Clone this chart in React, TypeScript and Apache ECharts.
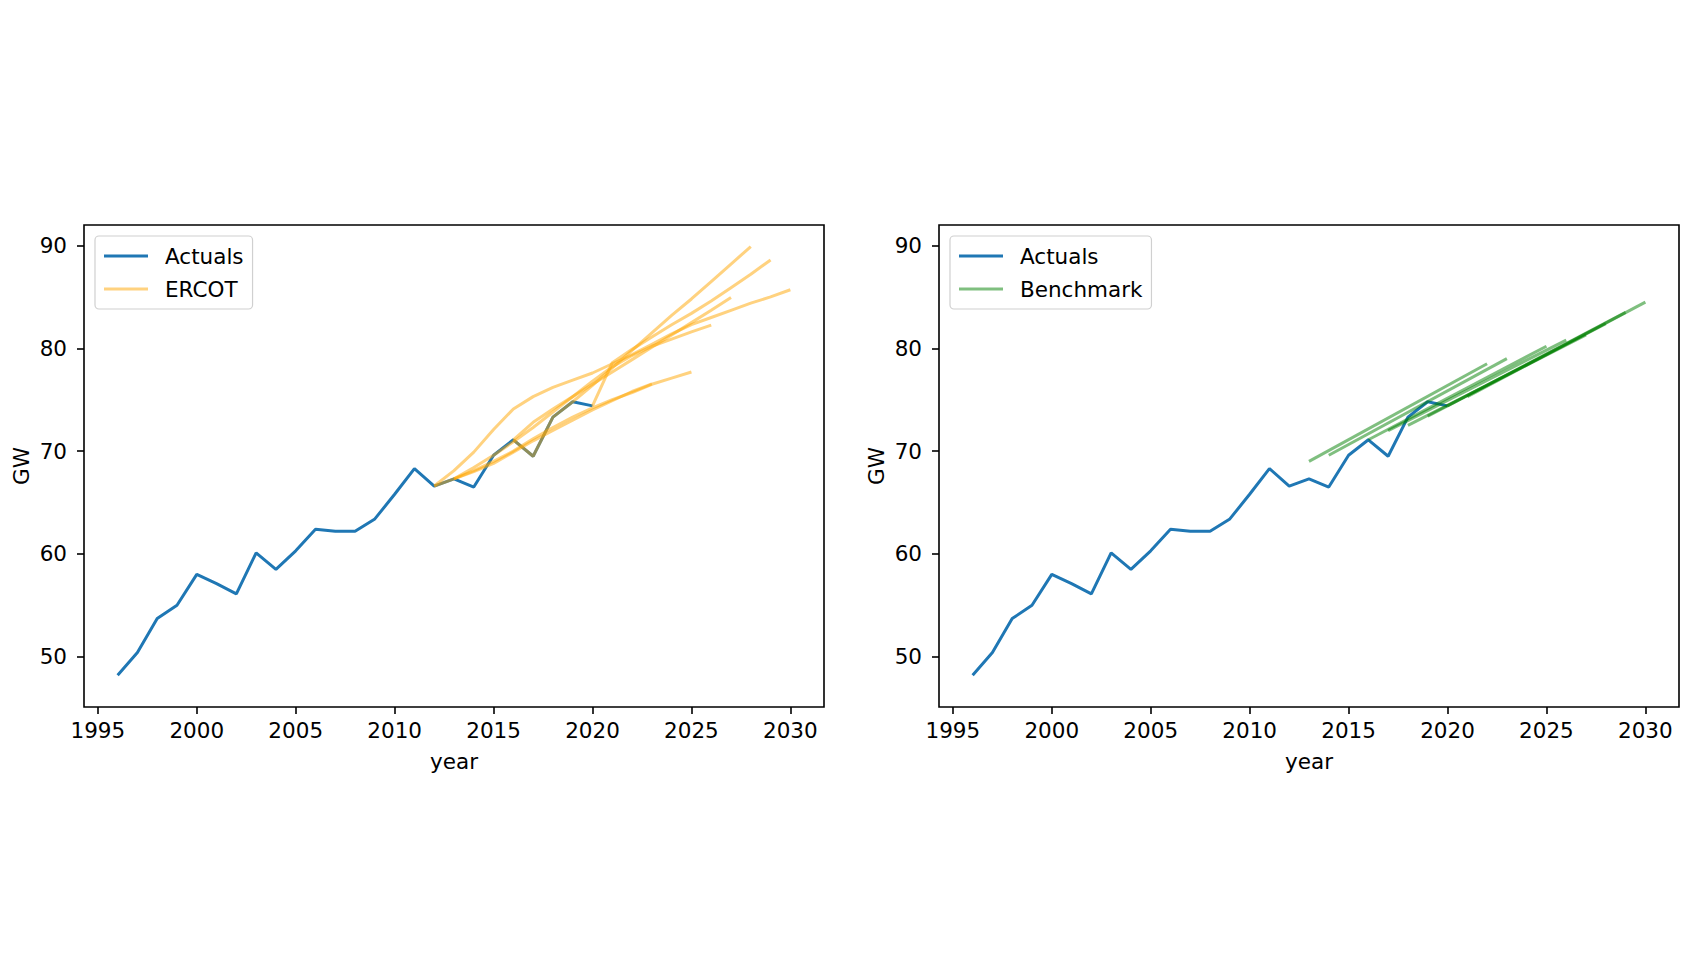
import { useEffect, useRef } from "react";
import * as echarts from "echarts";

// actual peak demand, one value per year from 1996
const ACTUAL_START = 1996;
const ACTUALS = [
  48.2, 50.4, 53.7, 55.0, 58.0, 57.1, 56.1, 60.1, 58.5, 60.3, 62.4, 62.2, 62.2,
  63.4, 65.8, 68.3, 66.6, 67.3, 66.5, 69.6, 71.1, 69.5, 73.3, 74.8, 74.4,
];

// ERCOT forecast vintages: first year + yearly values
const ERCOT_STARTS = [2012, 2012, 2013, 2013, 2016, 2016, 2020];
const ERCOT_VALUES = [
  [66.6, 68.1, 69.9, 72.1, 74.1, 75.3, 76.2, 76.9, 77.6, 78.5, 79.4, 80.4, 81.4, 82.3, 83.0, 83.7, 84.4, 85.0, 85.7],
  [66.6, 67.3, 68.0, 68.8, 69.9, 71.0, 72.0, 73.0, 74.0, 74.9, 75.8, 76.55],
  [67.3, 68.1, 69.0, 70.0, 71.2, 72.3, 73.3, 74.2, 75.0, 75.7, 76.5, 77.1, 77.7],
  [67.3, 68.4, 69.6, 70.9, 72.3, 73.8, 75.3, 76.8, 78.2, 79.3, 80.2, 80.9, 81.6, 82.25],
  [71.1, 72.8, 74.1, 75.3, 76.5, 77.7, 78.9, 80.1, 81.3, 82.5, 83.7, 84.95],
  [71.1, 69.5, 73.3, 74.8, 76.4, 78.1, 79.8, 81.5, 83.2, 84.8, 86.5, 88.2, 89.9],
  [74.4, 78.6, 79.9, 81.1, 82.3, 83.4, 84.6, 85.9, 87.2, 88.6],
];

// benchmark (straight trend lines): start/end year and value
const BENCH_FROM_YEAR = [2013, 2014, 2016, 2017, 2018, 2019, 2020, 2021];
const BENCH_FROM_VALUE = [69.0, 69.6, 71.1, 72.0, 72.5, 73.4, 74.4, 75.3];
const BENCH_TO_YEAR = [2022, 2023, 2025, 2026, 2027, 2028, 2029, 2030];
const BENCH_TO_VALUE = [78.5, 79.0, 80.2, 80.8, 81.3, 82.4, 83.5, 84.5];

const X_TICKS = [1995, 2000, 2005, 2010, 2015, 2020, 2025, 2030];
const Y_TICKS = [50, 60, 70, 80, 90];

const FONT = "DejaVu Sans";
const FS = 21.5;
const BLUE = "#1f77b4";
const ORANGE = "rgba(255,165,0,0.5)";
const GREEN = "rgba(0,128,0,0.5)";

const GRID_TOP = 225;
const GRID_H = 482;
const GRID_W = 740;
const LEFTS = [84, 939];

const lineSeries = (
  name: string,
  color: string,
  data: number[][],
  axis: number,
  z = 2
) => ({
  name,
  type: "line",
  xAxisIndex: axis,
  yAxisIndex: axis,
  showSymbol: false,
  symbol: "none",
  z,
  itemStyle: { color },
  lineStyle: { color, width: 3 },
  emphasis: { disabled: true },
  data,
});

export default function App() {
  const ref = useRef<HTMLDivElement | null>(null);

  useEffect(() => {
    if (!ref.current) return;
    const chart = echarts.init(ref.current, undefined, { renderer: "svg" });

    const actualData = ACTUALS.map((v, i) => [ACTUAL_START + i, v]);

    const xAxes = LEFTS.map((_, i) => ({
      type: "value",
      gridIndex: i,
      min: 1994.3,
      max: 2031.7,
      name: "year",
      nameLocation: "middle",
      nameGap: 43,
      nameTextStyle: { fontFamily: FONT, fontSize: FS, color: "#000" },
      axisLine: { show: false },
      axisTick: {
        show: true,
        length: 7,
        customValues: X_TICKS,
        lineStyle: { color: "#000", width: 1.6 },
      },
      axisLabel: {
        customValues: X_TICKS,
        formatter: (v: number) => String(v),
        margin: 12,
        fontFamily: FONT,
        fontSize: FS,
        color: "#000",
      },
      splitLine: { show: false },
    }));

    const yAxes = LEFTS.map((_, i) => ({
      type: "value",
      gridIndex: i,
      min: 45.1,
      max: 92.0,
      name: "GW",
      nameLocation: "middle",
      nameGap: 52,
      nameTextStyle: { fontFamily: FONT, fontSize: FS, color: "#000" },
      axisLine: { show: false },
      axisTick: {
        show: true,
        length: 7,
        customValues: Y_TICKS,
        lineStyle: { color: "#000", width: 1.6 },
      },
      axisLabel: {
        customValues: Y_TICKS,
        formatter: (v: number) => String(v),
        margin: 17,
        fontFamily: FONT,
        fontSize: FS,
        color: "#000",
      },
      splitLine: { show: false },
    }));

    const legendBase = {
      orient: "vertical",
      top: 236,
      icon: "rect",
      itemWidth: 44,
      itemHeight: 3,
      itemGap: 11,
      selectedMode: false,
      padding: [9, 9, 9, 9],
      backgroundColor: "rgba(255,255,255,0.8)",
      borderColor: "#d0d0d0",
      borderWidth: 1.2,
      borderRadius: 4,
      textStyle: {
        fontFamily: FONT,
        fontSize: FS,
        color: "#000",
        lineHeight: 22,
        padding: [0, 0, 0, 12],
      },
    };

    chart.setOption({
      animation: false,
      backgroundColor: "#fff",
      grid: LEFTS.map((left) => ({
        left,
        top: GRID_TOP,
        width: GRID_W,
        height: GRID_H,
        show: true,
        borderColor: "#000",
        borderWidth: 1.6,
        backgroundColor: "transparent",
        containLabel: false,
      })),
      xAxis: xAxes,
      yAxis: yAxes,
      legend: [
        { ...legendBase, left: 95, data: ["Actuals", "ERCOT"] },
        { ...legendBase, left: 950, data: ["Actuals", "Benchmark"] },
      ],
      series: [
        lineSeries("Actuals", BLUE, actualData, 0),
        ...ERCOT_VALUES.map((vals, k) =>
          lineSeries(
            "ERCOT",
            ORANGE,
            vals.map((v, i) => [ERCOT_STARTS[k] + i, v]),
            0,
            3
          )
        ),
        lineSeries("Actuals", BLUE, actualData, 1),
        ...BENCH_FROM_YEAR.map((y0, k) =>
          lineSeries(
            "Benchmark",
            GREEN,
            [
              [y0, BENCH_FROM_VALUE[k]],
              [BENCH_TO_YEAR[k], BENCH_TO_VALUE[k]],
            ],
            1,
            3
          )
        ),
      ],
    });

    return () => chart.dispose();
  }, []);

  return (
    <div
      ref={ref}
      style={{
        position: "absolute",
        left: 0,
        top: 0,
        width: 1706,
        height: 960,
        background: "#fff",
      }}
    />
  );
}
